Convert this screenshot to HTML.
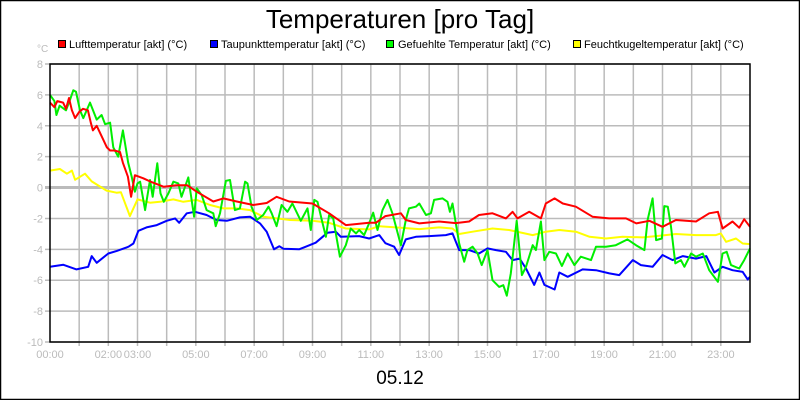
<!DOCTYPE html>
<html><head><meta charset="utf-8"><style>
html,body{margin:0;padding:0;background:#fff}
svg{display:block;font-family:"Liberation Sans",sans-serif}
</style></head><body>
<svg id="chart" width="800" height="400" viewBox="0 0 800 400">
<rect x="0.5" y="0.5" width="799" height="399" fill="#fff" stroke="#000" stroke-width="1.5"/>
<text x="400" y="28" text-anchor="middle" font-size="26" fill="#000">Temperaturen [pro Tag]</text>
<g font-size="11" fill="#000">
<g><rect x="58.5" y="40.5" width="7" height="7" fill="#f00" stroke="#000"/><text x="69" y="48">Lufttemperatur [akt] (°C)</text></g>
<g><rect x="210.5" y="40.5" width="7" height="7" fill="#00f" stroke="#000"/><text x="221" y="48">Taupunkttemperatur [akt] (°C)</text></g>
<g><rect x="386.5" y="40.5" width="7" height="7" fill="#0f0" stroke="#000"/><text x="398" y="48">Gefuehlte Temperatur [akt] (°C)</text></g>
<g><rect x="573.5" y="40.5" width="7" height="7" fill="#ff0" stroke="#000"/><text x="584" y="48">Feuchtkugeltemperatur [akt] (°C)</text></g>
</g>
<text x="37" y="52" font-size="10" fill="#bbb">°C</text>
<g id="grid"></g>
<g id="axes"></g>
<g id="series"></g>
<rect x="50" y="64" width="700" height="278" fill="none" stroke="#000" stroke-width="1.5"/>
<text x="400" y="384" text-anchor="middle" font-size="19" fill="#000">05.12</text>
</svg>
<script>
const yTicks=[8,6,4,2,0,-2,-4,-6,-8,-10];
const xTickLabels=["00:00","02:00","03:00","05:00","07:00","09:00","11:00","13:00","15:00","17:00","19:00","21:00","23:00"];
const xTickHours=[0,2,3,5,7,9,11,13,15,17,19,21,23];
const luftT=[0,0.15,0.25,0.45,0.55,0.65,0.75,0.86,1.0,1.13,1.3,1.4,1.47,1.6,1.8,1.95,2.06,2.2,2.4,2.5,2.67,2.78,2.91,3.2,3.43,3.9,4.34,4.7,5.03,5.6,5.94,6.4,6.97,7.43,7.77,8.2,9.0,9.57,10.14,10.94,11.17,11.5,12.03,12.2,12.66,13.34,13.91,14.37,14.71,15.17,15.63,15.86,16.03,16.43,16.83,17.0,17.3,17.58,18.03,18.6,19.17,19.75,20.1,20.55,21.0,21.46,22.15,22.6,22.9,23.06,23.4,23.63,23.8,24];
const luftV=[5.5,5.2,5.6,5.5,5.1,5.8,5.0,4.5,4.9,5.1,5.0,4.2,3.7,4.0,3.2,2.6,2.4,2.4,2.3,1.6,0.7,-0.6,0.8,0.6,0.4,0.05,0.15,0.15,-0.27,-0.9,-0.7,-0.9,-1.13,-1.0,-0.6,-0.9,-1.03,-1.67,-2.43,-2.28,-2.28,-1.85,-1.67,-2.1,-2.32,-2.2,-2.3,-2.2,-1.78,-1.67,-2.0,-1.57,-2.0,-1.57,-2.0,-1.03,-0.7,-1.03,-1.24,-1.89,-2.0,-2.0,-2.32,-2.15,-2.54,-2.1,-2.2,-1.67,-1.57,-2.65,-2.2,-2.6,-2.05,-2.54];
const tauT=[0,0.46,0.91,1.31,1.43,1.6,2.0,2.29,2.69,2.86,3.03,3.31,3.66,4.0,4.29,4.43,4.69,4.97,5.37,5.71,6.06,6.51,6.86,7.2,7.43,7.68,7.86,8.0,8.54,8.77,9.11,9.51,9.8,9.97,10.6,10.94,11.29,11.5,11.8,11.97,12.2,12.54,13.0,13.57,13.8,14.03,14.37,14.71,15.0,15.29,15.63,15.86,16.1,16.32,16.6,16.78,16.95,17.3,17.46,17.75,18.26,18.72,19.18,19.52,19.98,20.26,20.66,21.0,21.35,21.7,22.15,22.5,22.78,23.06,23.4,23.75,23.92,24];
const tauV=[-5.13,-5.0,-5.3,-5.13,-4.44,-4.87,-4.27,-4.1,-3.83,-3.62,-2.8,-2.58,-2.43,-2.15,-2.0,-2.28,-1.67,-1.57,-1.78,-2.1,-2.15,-1.93,-1.89,-2.32,-2.86,-4.0,-3.8,-3.96,-4.0,-3.83,-3.57,-2.93,-2.86,-3.19,-3.14,-3.3,-3.08,-3.6,-3.83,-4.37,-3.36,-3.19,-3.14,-3.08,-2.97,-4.05,-4.05,-4.27,-3.94,-4.05,-4.16,-4.7,-4.6,-5.24,-6.3,-5.5,-6.3,-6.6,-5.5,-5.78,-5.3,-5.35,-5.56,-5.67,-4.7,-5.02,-5.13,-4.37,-4.7,-4.44,-4.6,-4.44,-5.5,-5.13,-5.35,-5.46,-5.95,-5.78];
const gefT=[0,0.15,0.22,0.33,0.55,0.69,0.8,0.89,1.03,1.14,1.37,1.6,1.77,1.89,2.06,2.17,2.34,2.5,2.68,2.8,2.91,3.0,3.09,3.26,3.43,3.52,3.68,3.79,3.9,4.06,4.23,4.4,4.51,4.74,4.94,5.03,5.2,5.37,5.6,5.68,5.83,6.03,6.17,6.34,6.51,6.69,6.77,6.91,7.09,7.31,7.49,7.6,7.77,7.94,8.14,8.31,8.6,8.83,8.94,9.06,9.17,9.32,9.46,9.57,9.71,9.94,10.14,10.31,10.49,10.6,10.77,10.94,11.08,11.23,11.4,11.57,11.74,12.03,12.2,12.31,12.54,12.66,12.89,13.06,13.17,13.46,13.63,13.71,13.8,14.03,14.2,14.31,14.49,14.66,14.8,15.0,15.17,15.4,15.54,15.66,15.8,16.0,16.18,16.32,16.55,16.66,16.83,16.95,17.12,17.35,17.55,17.75,17.98,18.2,18.55,18.72,19.06,19.4,19.8,20.09,20.38,20.49,20.66,20.78,20.98,21.06,21.18,21.29,21.44,21.63,21.75,21.98,22.15,22.38,22.6,22.9,23.06,23.2,23.35,23.63,23.8,24];
const gefV=[6.0,5.6,4.7,5.3,5.0,5.7,6.3,6.2,5.0,4.5,5.5,4.4,4.7,4.1,4.2,2.6,2.0,3.7,1.6,0.7,-0.27,0.27,0.38,-1.46,0.49,-0.6,1.57,-0.38,-0.92,-0.38,0.38,0.27,-0.6,0.66,-1.89,-0.05,-0.49,-1.46,-1.67,-2.5,-1.67,0.44,0.49,-1.46,-1.35,0.38,0.27,-1.24,-2.1,-1.78,-1.24,-1.67,-2.5,-1.13,-1.57,-1.03,-2.15,-1.35,-2.75,-0.8,-0.92,-2.1,-3.19,-1.78,-2.0,-4.48,-3.73,-2.65,-2.97,-2.75,-3.08,-2.32,-1.63,-2.75,-1.46,-0.8,-1.67,-3.73,-2.1,-1.35,-1.24,-1.03,-1.78,-1.67,-0.8,-0.7,-0.92,-1.57,-1.03,-3.62,-4.8,-4.05,-3.83,-4.27,-5.02,-4.05,-6.0,-6.43,-6.32,-7.0,-5.56,-2.15,-5.67,-5.13,-3.73,-4.05,-2.2,-4.7,-4.16,-4.27,-5.08,-4.27,-5.02,-4.48,-4.7,-3.83,-3.83,-3.73,-3.36,-3.73,-4.05,-2.1,-0.7,-3.4,-3.3,-1.2,-1.24,-2.54,-4.91,-4.7,-5.13,-4.27,-4.48,-4.27,-5.35,-6.1,-4.27,-4.16,-5.02,-5.24,-4.7,-3.94];
const feuchtT=[0,0.34,0.58,0.75,0.86,1.2,1.43,1.6,1.94,2.28,2.43,2.74,3.0,3.43,3.77,4.23,4.57,5.03,5.49,5.94,6.4,6.86,7.31,7.77,8.23,9.0,9.57,10.14,10.94,11.29,11.86,12.66,13.34,13.8,14.03,14.49,15.17,15.74,16.55,17.0,17.46,18.03,18.5,19.06,19.63,20.32,20.78,21.46,22.15,22.83,23.0,23.18,23.52,23.75,24];
const feuchtV=[1.1,1.2,0.9,1.1,0.5,0.9,0.4,0.2,-0.2,-0.33,-0.3,-1.85,-0.77,-0.98,-0.92,-0.77,-0.92,-0.8,-1.13,-1.35,-1.35,-1.46,-1.89,-2.0,-2.1,-2.15,-2.28,-2.65,-2.71,-2.5,-2.58,-2.69,-2.58,-2.65,-3.01,-2.86,-2.65,-2.75,-3.08,-2.86,-2.75,-2.86,-3.19,-3.3,-3.19,-3.23,-3.14,-3.01,-3.08,-3.08,-2.97,-3.51,-3.3,-3.62,-3.66];

const NS='http://www.w3.org/2000/svg';
const X0=50,X1=750,Y0=64,Y1=342,HMAX=24,VMIN=-10,VMAX=8;
function xScale(h){return X0+(h/HMAX)*(X1-X0);}
function yScale(v){return Y1-(v-VMIN)/(VMAX-VMIN)*(Y1-Y0);}
function mk(tag,attrs,parent){const e=document.createElementNS(NS,tag);for(const k in attrs)e.setAttribute(k,attrs[k]);parent.appendChild(e);return e;}
const grid=document.getElementById('grid'),axes=document.getElementById('axes'),series=document.getElementById('series');
for(let h=1;h<HMAX;h++){
  const x=xScale(h);
  const l=mk('line',{x1:x,x2:x,y1:Y0,y2:Y1+4,stroke:'#bbb','stroke-width':1.5},grid);
  
  
}
yTicks.forEach(v=>{
  const y=yScale(v);
  const l=mk('line',{x1:X0-5,x2:X1,y1:y,y2:y,stroke:'#bbb','stroke-width':v===0?3:1.5},grid);
  
  
  const t=mk('text',{x:X0-7,y:y+4,'text-anchor':'end','font-size':11,fill:'#bbb'},axes);
  t.textContent=String(v);
  
  
});
xTickLabels.forEach((lab,i)=>{
  const t=mk('text',{x:xScale(xTickHours[i]),y:358,'text-anchor':'middle','font-size':11,fill:'#bbb'},axes);
  t.textContent=lab;
  
  
});
function drawLine(ts,vs,color,name){
  const pts=ts.map((t,i)=>xScale(t).toFixed(1)+','+yScale(vs[i]).toFixed(1)).join(' ');
  const p=mk('polyline',{points:pts,fill:'none',stroke:color,'stroke-width':2,'stroke-linejoin':'round'},series);
  
  
}
drawLine(feuchtT,feuchtV,'#ffff00','feuchtkugel-line');
drawLine(tauT,tauV,'#0000ff','taupunkt-line');
drawLine(gefT,gefV,'#00ee00','gefuehlt-line');
drawLine(luftT,luftV,'#ff0000','luft-line');
</script>
</body></html>
